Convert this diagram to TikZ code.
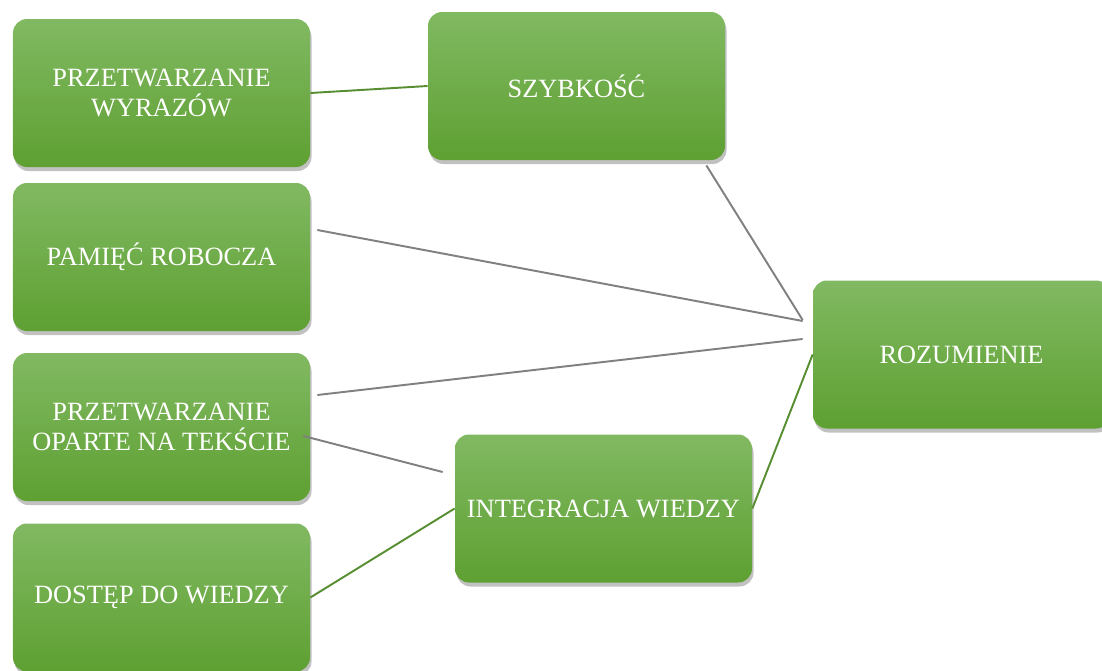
\documentclass[tikz,border=0pt]{standalone}
\usepackage{fontspec}
\setmainfont{Liberation Serif}
\usepackage{xcolor}
\usepackage{tikz}
\usetikzlibrary{calc,shadows}
\definecolor{leafTop}{RGB}{129,185,98}
\definecolor{leafBottom}{RGB}{94,160,50}
\definecolor{linkGray}{RGB}{128,128,128}
\definecolor{linkGreen}{RGB}{88,142,50}

\begin{document}
\begin{tikzpicture}[
  box/.style={rounded corners=0.28cm, top color=leafTop, bottom color=leafBottom,
    draw=none, text=white, align=center, minimum width=5.94cm, minimum height=2.96cm,
    font=\fontsize{15}{17}\selectfont,
    drop shadow={shadow xshift=0.03cm, shadow yshift=-0.08cm, opacity=0.35, fill=black!70}},
  grayLink/.style={linkGray, line width=1.1pt},
  greenLink/.style={linkGreen, line width=1.1pt}
]
\useasboundingbox (0,0) rectangle (22.04,-13.42);

\node[box] (words) at (3.23,-1.86) {PRZETWARZANIE\\WYRAZÓW};
\node[box] (speed) at (11.53,-1.72) {SZYBKOŚĆ};
\node[box] (memory) at (3.23,-5.14) {PAMIĘĆ ROBOCZA};
\node[box] (text) at (3.23,-8.54) {PRZETWARZANIE\\OPARTE NA TEKŚCIE};
\node[box] (access) at (3.23,-11.95) {DOSTĘP DO WIEDZY};
\node[box] (integr) at (12.07,-10.17) {INTEGRACJA WIEDZY};
\node[box] (compr) at (19.23,-7.09) {ROZUMIENIE};

\draw[greenLink] (words.east) -- (speed.west);
\draw[grayLink] ($(speed.south east)+(-0.38,-0.1)$) -- ($(compr.west)+(-0.2,0.69)$);
\draw[grayLink] ($(memory.east)+(0.14,0.54)$) -- ($(compr.west)+(-0.2,0.67)$);
\draw[grayLink] ($(text.east)+(0.14,0.64)$) -- ($(compr.west)+(-0.2,0.31)$);
\draw[grayLink] ($(text.east)+(-0.14,-0.18)$) -- ($(integr.west)+(-0.24,0.73)$);
\draw[greenLink] (access.east) -- (integr.west);
\draw[greenLink] (integr.east) -- (compr.west);
\end{tikzpicture}
\end{document}
